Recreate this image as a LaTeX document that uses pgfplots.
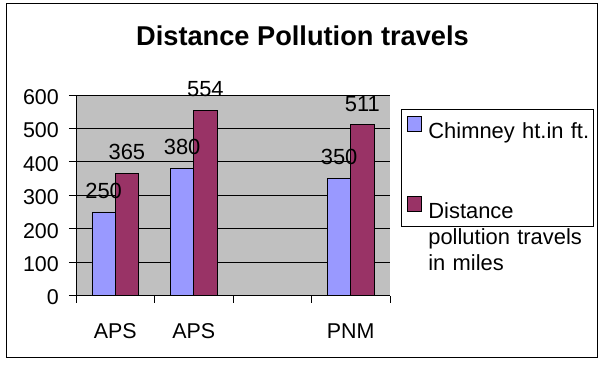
\documentclass[border=0pt]{standalone}
\usepackage{fontspec}
\setmainfont{Liberation Sans}
\usepackage{pgfplots}
\pgfplotsset{compat=1.18}
\definecolor{barblue}{HTML}{9999FF}
\definecolor{barred}{HTML}{993366}
\definecolor{plotgray}{HTML}{C0C0C0}
\begin{document}
\begin{tikzpicture}
\path[use as bounding box] (0bp,0bp) rectangle (605bp,-365bp);
\draw[line width=1bp] (6bp,-3bp) rectangle (597bp,-357bp);
\node[anchor=base, font=\bfseries\fontsize{27.3}{32}\selectfont] at (302.5bp,-45.7bp) {Distance Pollution travels};
\begin{axis}[
  at={(76bp,-295.5bp)}, anchor=south west,
  scale only axis, width=314bp, height=200.5bp,
  xmin=-0.5, xmax=3.5, ymin=0, ymax=600,
  axis background/.style={fill=plotgray},
  axis x line*=bottom, axis y line*=left,
  axis line style={black, line width=0.8bp},
  ymajorgrids, grid style={black, line width=0.8bp},
  ytick={0,100,...,600},
  xtick={-0.5,0.5,1.5,2.5,3.5}, xticklabels={},
  extra x ticks={0,1,3}, extra x tick labels={APS,APS,PNM},
  extra x tick style={major tick length=0pt, xticklabel style={yshift=-18bp}},
  tick align=outside,
  major tick length=7bp,
  tick style={black, line width=0.8bp},
  /pgf/number format/assume math mode=true,
  ticklabel style={font=\fontsize{21.5}{26}\selectfont, inner sep=0pt},
  yticklabel style={xshift=-10bp, yshift=-2bp},
  xticklabel style={yshift=-10bp},
  reverse legend,
  legend image code/.code={\draw[#1, draw=black, line width=0.8bp] (0bp,0.3bp) rectangle (14.4bp,14.8bp);},
  legend style={at={(1.034,0.928)}, anchor=north west, draw=black, fill=white,
    line width=0.8bp, inner xsep=5.5bp, inner ysep=6.5bp,
    font=\fontsize{22}{26}\selectfont,
    row sep=56bp, column sep=6.6bp,
    nodes={inner sep=0pt, text width=160bp, align=left}},
  legend cell align=left,
  nodes near coords,
  every node near coord/.append style={black, inner sep=0pt, yshift=13bp, anchor=south, font=\fontsize{22}{26}\selectfont},
]
\addplot[ybar, bar width=23.3bp, bar shift=11.65bp, fill=barred, draw=black, line width=0.8bp,
  every node near coord/.append style={xshift=11.65bp}]
  coordinates {(0,365) (1,554) (3,511)};
\addlegendentry{Distance\\pollution travels\\in miles}
\addplot[ybar, bar width=23.3bp, bar shift=-11.65bp, fill=barblue, draw=black, line width=0.8bp,
  every node near coord/.append style={xshift=-11.65bp}]
  coordinates {(0,250) (1,380) (3,350)};
\addlegendentry{\mbox{Chimney ht.in ft.}}
\end{axis}
\end{tikzpicture}
\end{document}
